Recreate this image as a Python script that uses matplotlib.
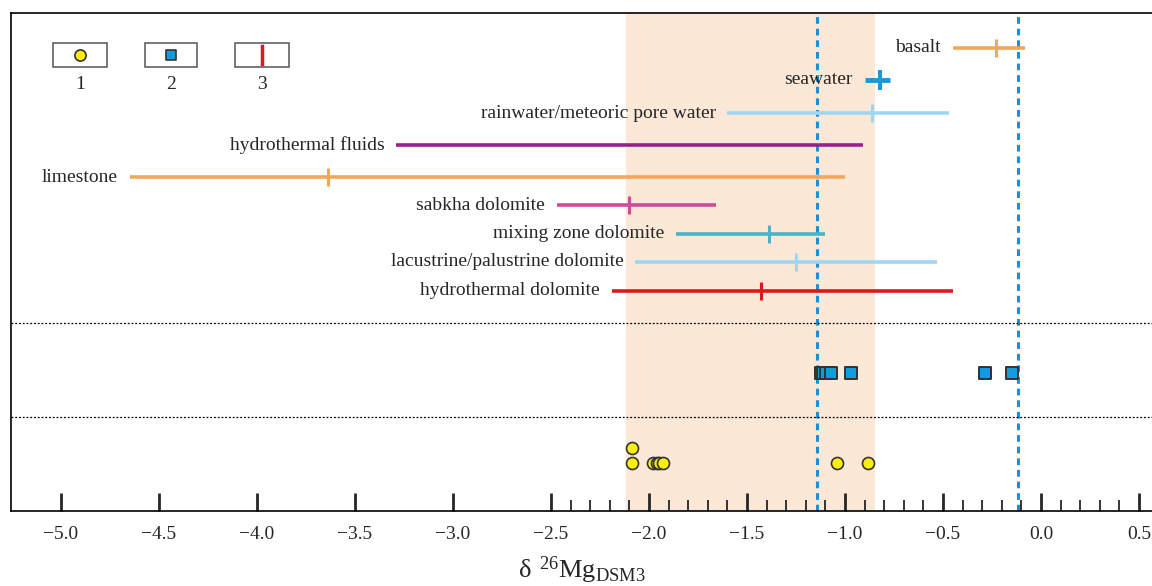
import numpy as np
import matplotlib
matplotlib.use("Agg")
import matplotlib.pyplot as plt
from matplotlib.patches import Rectangle
from matplotlib.ticker import FixedLocator

plt.rcParams["font.family"] = ["Liberation Serif", "DejaVu Serif"]

# End-member ranges of d26Mg (min, max, typical value or None)
names = ["basalt", "seawater", "rainwater/meteoric pore water", "hydrothermal fluids",
         "limestone", "sabkha dolomite", "mixing zone dolomite",
         "lacustrine/palustrine dolomite", "hydrothermal dolomite"]
range_min = [-0.45, -0.90, -1.60, -3.29, -4.65, -2.47, -1.86, -2.07, -2.19]
range_max = [-0.08, -0.77, -0.47, -0.91, -1.00, -1.66, -1.10, -0.53, -0.45]
typical = [-0.23, -0.82, -0.86, None, -3.64, -2.10, -1.39, -1.25, -1.43]
colors = ["#f5a65b", "#1a98dc", "#9fd6f4", "#9b1f8f", "#f5a65b",
          "#cb4d9b", "#4bb3c3", "#9fd6f4", "#e3141c"]
row_y = [35, 67, 100, 132, 164, 192, 221, 249, 278]

# Sample data (group 2: squares, group 1: circles)
sq_x = [-1.122, -1.112, -1.097, -1.071, -0.969, -0.286, -0.148]
circ_x = [-2.087, -2.087, -1.980, -1.959, -1.949, -1.929, -1.041, -0.883]
circ_y = [435, 450, 450, 450, 450, 450, 450, 450]

band = (-2.12, -0.845)
dashed_x = [-1.143, -0.117]

fig = plt.figure(figsize=(11.52, 5.86), dpi=100)
ax = fig.add_axes([11 / 1152, 75 / 586, 1141 / 1152, 498 / 586])
ax.set_xlim(-5.255, 0.566)
ax.set_ylim(498, 0)

ax.axvspan(band[0], band[1], color="#fce8d6", zorder=0, lw=0)
for xv in dashed_x:
    ax.axvline(xv, color="#1a8fdc", ls=(0, (2.2, 1.6)), lw=2.2, zorder=1)

for sep in [310, 404]:
    ax.axhline(sep, color="black", ls=(0, (1.5, 1.5)), lw=0.9, zorder=1)

for i, name in enumerate(names):
    lw = 3.5 if name == "seawater" else 2.6
    ax.plot([range_min[i], range_max[i]], [row_y[i], row_y[i]], color=colors[i],
            lw=lw, solid_capstyle="butt", zorder=3)
    if typical[i] is not None:
        h = 10 if name == "seawater" else 9
        ax.plot([typical[i], typical[i]], [row_y[i] - h, row_y[i] + h],
                color=colors[i], lw=lw * 0.85, solid_capstyle="butt", zorder=3)
    ax.text(range_min[i] - 0.06, row_y[i], name, ha="right", va="center",
            fontsize=14, color="#262626", zorder=4)

ax.scatter(sq_x, [360] * len(sq_x), marker="s", s=70, color="#129ce0",
           edgecolors="#333333", linewidths=1.4, zorder=5)
ax.scatter(circ_x, circ_y, marker="o", s=75, color="#fbee0f",
           edgecolors="#333333", linewidths=1.2, zorder=5)

# legend boxes
boxes = [(0.0368, 0.0473), (0.1174, 0.0456), (0.1963, 0.0473)]
for k, (bx, bw) in enumerate(boxes):
    ax.add_patch(Rectangle((bx, 0.8916), bw, 0.048, transform=ax.transAxes,
                           fill=False, ec="#555555", lw=1.1, zorder=6))
    cx = bx + bw / 2
    cy = 0.8916 + 0.024
    if k == 0:
        ax.scatter([cx], [cy], transform=ax.transAxes, marker="o", s=65,
                   color="#fbee0f", edgecolors="#333333", linewidths=1.2, zorder=7)
    elif k == 1:
        ax.scatter([cx], [cy], transform=ax.transAxes, marker="s", s=55,
                   color="#129ce0", edgecolors="#333333", linewidths=1.2, zorder=7)
    else:
        ax.plot([cx, cx], [0.8916 + 0.006, 0.8916 + 0.042], transform=ax.transAxes,
                color="#e3141c", lw=2.5, zorder=7)
    ax.text(cx, 0.857, str(k + 1), transform=ax.transAxes, ha="center",
            va="center", fontsize=14, color="#262626")

# axes styling
ax.set_yticks([])
ax.spines["right"].set_visible(False)
for s in ["top", "left", "bottom"]:
    ax.spines[s].set_linewidth(1.2)
major = np.arange(-5.0, 0.51, 0.5)
ax.xaxis.set_major_locator(FixedLocator(major))
minor = [v for v in np.round(np.arange(-2.4, 0.5, 0.1), 1) if abs(v * 2 - round(v * 2)) > 1e-6]
ax.xaxis.set_minor_locator(FixedLocator(minor))
ax.set_xticklabels([f"{v:.1f}".replace("-", "\u2212") for v in major])
ax.tick_params(axis="x", which="major", direction="in", length=13, width=2,
               labelsize=14, pad=11, colors="#262626")
ax.tick_params(axis="x", which="minor", direction="in", length=8, width=1.3,
               colors="#262626")
ax.set_xlabel(r"$\mathregular{\delta\ ^{26}Mg_{DSM3}}$", fontsize=19, labelpad=8,
              color="#262626")

fig.savefig("out.png", dpi=100)
